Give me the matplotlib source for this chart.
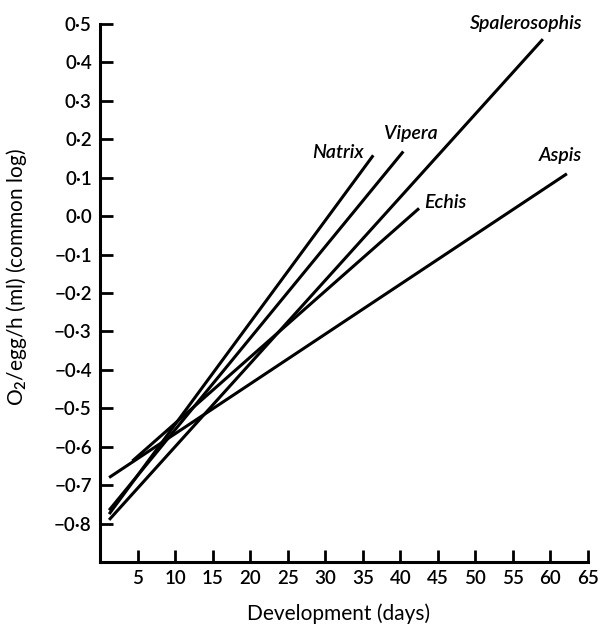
import matplotlib
matplotlib.use("Agg")
import matplotlib.pyplot as plt

plt.rcParams['font.family'] = ['Lato', 'DejaVu Sans']
plt.rcParams['font.weight'] = 'semibold'
plt.rcParams['mathtext.fontset'] = 'custom'
plt.rcParams['mathtext.rm'] = 'Lato:semibold'

# regression lines: start and end (day, log O2)
species = ['Natrix', 'Vipera', 'Spalerosophis', 'Echis', 'Aspis']
day_start = [1.2, 1.2, 1.2, 4.3, 1.2]
day_end = [36.4, 40.4, 59.0, 42.5, 62.2]
log_start = [-0.775, -0.765, -0.79, -0.637, -0.68]
log_end = [0.158, 0.168, 0.46, 0.02, 0.11]

# label positions (centre of text)
label_x = [31.7, 41.4, 56.8, 46.0, 61.3]
label_y = [0.165, 0.214, 0.501, 0.036, 0.158]

x_ticks = [5, 10, 15, 20, 25, 30, 35, 40, 45, 50, 55, 60, 65]
y_ticks = [-0.8, -0.7, -0.6, -0.5, -0.4, -0.3, -0.2, -0.1, 0.0, 0.1, 0.2, 0.3, 0.4, 0.5]


def fmt(v):
    s = f'{abs(v):.1f}'.replace('.', '\u00b7')
    return ('\u2212' + s) if v < 0 else s


fig = plt.figure(figsize=(6.03, 6.26), dpi=100)
ax = fig.add_axes([0.166, 0.102, 0.809, 0.860])

for i in range(len(species)):
    ax.plot([day_start[i], day_end[i]], [log_start[i], log_end[i]],
            color='black', linewidth=2.2, solid_capstyle='butt')
    ax.text(label_x[i], label_y[i], species[i], fontsize=14, style='italic',
            ha='center', va='center', clip_on=False)

ax.set_xlim(0, 65)
ax.set_ylim(-0.9, 0.5)
ax.set_xticks(x_ticks)
ax.set_xticklabels([str(t) for t in x_ticks])
ax.set_yticks(y_ticks)
ax.set_yticklabels([fmt(v) for v in y_ticks])

for side in ['top', 'right']:
    ax.spines[side].set_visible(False)
for side in ['left', 'bottom']:
    ax.spines[side].set_linewidth(2.2)

ax.tick_params(direction='in', length=9, width=2, labelsize=13.5, pad=6)

ax.set_xlabel('Development (days)', fontsize=15)
ax.set_ylabel('O$_2$/egg/h (ml) (common log)', fontsize=15)
ax.xaxis.set_label_coords(0.488, -0.077)
ax.yaxis.set_label_coords(-0.145, 0.53)

fig.savefig('out.png', dpi=100)
